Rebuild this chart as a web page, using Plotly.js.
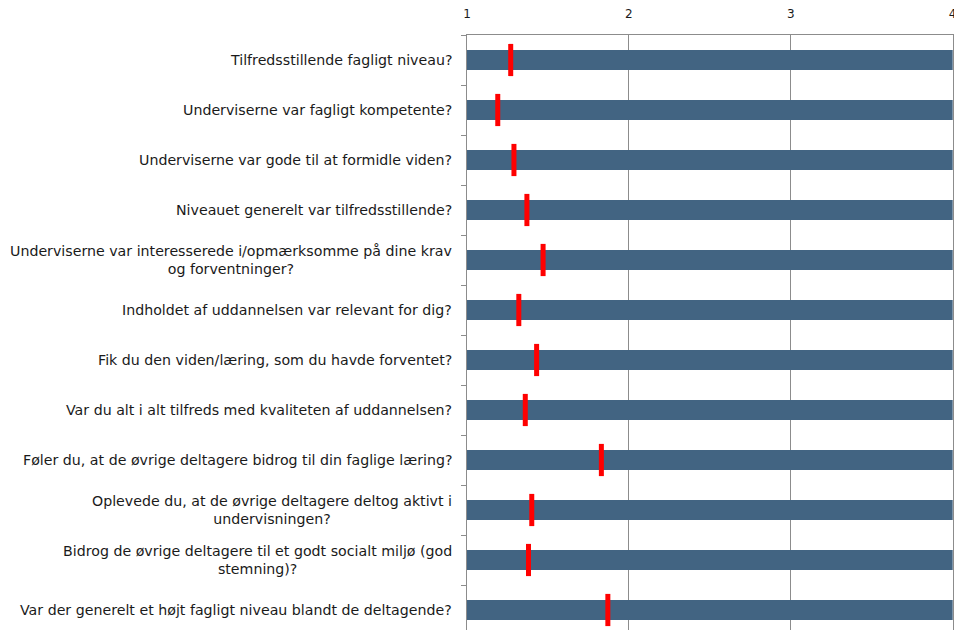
<!DOCTYPE html>
<html>
<head>
<meta charset="utf-8">
<script src="https://cdn.plot.ly/plotly-3.0.1.min.js"></script>
<style>html,body{margin:0;padding:0;background:#fff;}#chart{width:954px;height:630px;}</style>
</head>
<body>
<div id="chart"></div>
<script>
const questions = [
  "Tilfredsstillende fagligt niveau?",
  "Underviserne var fagligt kompetente?",
  "Underviserne var gode til at formidle viden?",
  "Niveauet generelt var tilfredsstillende?",
  "Underviserne var interesserede i/opmærksomme på dine krav<br>og forventninger?",
  "Indholdet af uddannelsen var relevant for dig?",
  "Fik du den viden/læring, som du havde forventet?",
  "Var du alt i alt tilfreds med kvaliteten af uddannelsen?",
  "Føler du, at de øvrige deltagere bidrog til din faglige læring?",
  "Oplevede du, at de øvrige deltagere deltog aktivt i<br>undervisningen?",
  "Bidrog de øvrige deltagere til et godt socialt miljø (god<br>stemning)?",
  "Var der generelt et højt fagligt niveau blandt de deltagende?"
];
const scaleMin = 1;
const scaleMax = 4;
const means = [1.27, 1.19, 1.29, 1.37, 1.47, 1.32, 1.43, 1.36, 1.83, 1.40, 1.38, 1.87];
const xTicks = [1, 2, 3, 4];

const barTrace = {
  type: 'bar',
  orientation: 'h',
  y: questions,
  x: questions.map(() => scaleMax - scaleMin),
  base: questions.map(() => scaleMin),
  width: 0.4,
  marker: {color: '#426482', line: {width: 0}},
  hoverinfo: 'skip',
  showlegend: false
};
const meanTrace = {
  type: 'scatter',
  mode: 'markers',
  y: questions,
  x: means,
  marker: {symbol: 'line-ns', size: 23, color: '#ff0000', line: {color: '#ff0000', width: 5}},
  showlegend: false
};

const annotations = questions.map(q => ({
  xref: 'paper', yref: 'y', x: 0, y: q, xshift: -13,
  xanchor: 'right', yanchor: 'middle', align: 'center',
  text: q, showarrow: false,
  font: {family: 'DejaVu Sans', size: 14.2, color: '#1a1a1a'}
}));

const layout = {
  width: 954, height: 630,
  margin: {l: 467, r: 1, t: 35, b: 0, pad: 0},
  paper_bgcolor: '#fff', plot_bgcolor: '#fff',
  font: {family: 'DejaVu Sans', color: '#1a1a1a'},
  bargap: 0.6,
  xaxis: {
    side: 'top', range: [scaleMin, scaleMax + 0.002], tickvals: xTicks,
    ticks: 'outside', ticklen: 11, tickcolor: 'rgba(0,0,0,0)',
    ticklabeloverflow: 'allow',
    tickfont: {family: 'DejaVu Sans', size: 12, color: '#1a1a1a'},
    showgrid: true, gridcolor: '#8c8c8c', gridwidth: 1,
    showline: true, linecolor: '#8c8c8c', linewidth: 1,
    zeroline: false, fixedrange: true
  },
  yaxis: {
    type: 'category', categoryorder: 'array', categoryarray: questions,
    range: [11.4, -0.5],
    showticklabels: false, tickson: 'boundaries',
    ticks: 'outside', ticklen: 5, tickcolor: '#8c8c8c',
    showgrid: false, showline: true, mirror: true, linecolor: '#8c8c8c', linewidth: 1,
    zeroline: false, fixedrange: true
  },
  annotations: annotations
};

Plotly.newPlot('chart', [barTrace, meanTrace], layout, {displayModeBar: false, staticPlot: true});
</script>
</body>
</html>
